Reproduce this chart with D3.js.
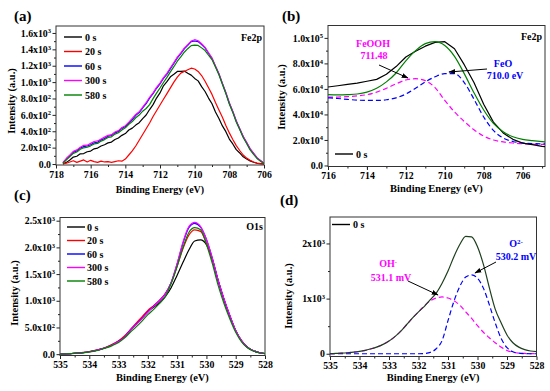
<!DOCTYPE html>
<html><head><meta charset="utf-8">
<script src="https://cdn.jsdelivr.net/npm/d3@7"></script>
<style>
body{margin:0;background:#fff}
svg{display:block}
text{font-family:"Liberation Serif","Times New Roman",serif;font-weight:bold;fill:#000}
</style>
</head><body><svg id="chart" width="550" height="391"></svg>
<script>
// ---------- Panel (a): Fe2p, sputter times ----------
const aEnergy = [717.6,717.4,717.2,717.0,716.8,716.6,716.4,716.2,716.0,715.8,715.6,715.4,715.2,715.0,714.8,714.6,714.4,714.2,714.0,713.8,713.6,713.4,713.2,713.0,712.8,712.6,712.4,712.2,712.0,711.8,711.6,711.4,711.2,711.0,710.8,710.6,710.4,710.2,710.0,709.8,709.6,709.4,709.2,709.0,708.8,708.6,708.4,708.2,708.0,707.8,707.6,707.4,707.2,707.0,706.8,706.6,706.4,706.2,706.0];
const a0s   = [0,20,50,85,95,125,128,150,158,185,195,220,236,258,268,300,318,350,372,415,438,475,505,555,598,665,725,805,868,955,1005,1065,1095,1130,1132,1135,1108,1085,1045,1015,945,885,805,735,635,555,465,395,305,245,175,135,88,62,38,22,9,5,0];
const a20s  = [0,10,25,40,20,35,50,25,45,30,20,35,25,30,20,30,40,35,60,110,160,220,290,360,430,500,580,650,720,790,860,930,1000,1060,1110,1130,1150,1170,1160,1130,1080,1010,930,850,750,660,570,470,380,300,225,165,110,72,45,25,12,5,0];
const a60s  = [15,60,100,145,160,195,212,220,236,260,266,295,312,340,348,380,398,435,458,500,542,595,628,685,738,805,858,925,978,1045,1098,1165,1228,1295,1348,1405,1448,1495,1502,1495,1458,1418,1352,1288,1192,1098,982,868,742,638,522,428,332,258,182,128,72,40,8];
const a300s = [20,70,110,155,172,205,228,230,252,275,282,305,328,350,358,390,408,445,468,510,558,605,638,695,748,815,868,935,988,1055,1108,1175,1238,1305,1358,1415,1458,1500,1518,1505,1468,1425,1358,1295,1198,1105,988,875,748,645,528,435,338,265,188,133,78,42,10];
const a580s = [10,50,90,130,147,180,198,205,222,245,252,280,298,325,332,365,382,415,442,485,518,565,598,645,678,725,798,865,928,995,1058,1125,1188,1255,1308,1365,1408,1445,1452,1448,1418,1385,1328,1275,1183,1090,973,860,733,630,513,420,323,250,173,118,68,34,6];
const aLegend = ["0 s","20 s","60 s","300 s","580 s"];
const aXTicks = [718,716,714,712,710,708,706];
const aYTicks = [0,200,400,600,800,1000,1200,1400,1600];
const aYTickLabels = ["0.0","2.0x10^2","4.0x10^2","6.0x10^2","8.0x10^2","1.0x10^3","1.2x10^3","1.4x10^3","1.6x10^3"];

// ---------- Panel (b): Fe2p fit ----------
const bEnergy = [716,715.5,715,714.5,714,713.5,713,712.5,712,711.5,711,710.5,710,709.5,709,708.5,708,707.5,707,706.5,706,705.5,705,704.85];
const bRaw    = [61500,62500,63500,64500,66000,67500,71500,77500,85000,89500,93500,96500,97000,91500,79000,65000,48000,34000,25500,20500,17500,16300,15000,14700];
const bFit    = [55500,55300,55500,56000,57500,60500,65500,72500,82000,90000,95500,97000,94000,85500,72000,57000,43500,33000,26500,22500,20500,19500,18700,18500];
const bFeOOH  = [53500,53600,54000,54500,55500,57500,60500,64000,67000,68000,66500,61000,51000,42000,34500,28000,23000,20000,18500,17600,17000,16700,16500,16500];
const bFeO    = [53000,52500,51800,51200,51000,51000,51500,53000,56000,60500,65500,69500,72000,72000,65000,52000,38000,27500,21500,18800,17700,17200,17000,17000];
const bXTicks = [716,714,712,710,708,706];
const bYTicks = [0,20000,40000,60000,80000,100000];
const bYTickLabels = ["0.0","2.0x10^4","4.0x10^4","6.0x10^4","8.0x10^4","1.0x10^5"];

// ---------- Panel (c): O1s, sputter times ----------
const cEnergy = [535.0,534.8,534.6,534.4,534.2,534.0,533.8,533.6,533.4,533.2,533.0,532.8,532.6,532.4,532.2,532.0,531.8,531.6,531.4,531.2,531.0,530.8,530.6,530.4,530.2,530.0,529.8,529.6,529.4,529.2,529.0,528.8,528.6,528.4,528.2,528.0];
const c0s   = [0,5,12,20,30,45,65,95,130,180,240,320,440,560,680,800,880,960,1080,1250,1480,1720,1950,2120,2140,2050,1780,1380,1020,710,440,250,130,65,30,12];
const c20s  = [0,5,12,22,33,48,70,100,140,190,250,340,460,580,700,820,910,1010,1140,1340,1650,1980,2230,2330,2300,2080,1760,1370,1020,710,440,250,130,65,30,12];
const c60s  = [0,5,12,20,30,45,65,95,130,178,240,320,450,560,670,790,900,1000,1130,1350,1690,2080,2370,2450,2380,2150,1800,1380,1030,720,440,250,130,65,30,12];
const c300s = [0,5,12,20,30,45,65,95,130,175,235,315,445,555,665,785,895,1000,1130,1350,1700,2100,2390,2470,2390,2150,1800,1385,1035,725,445,255,132,66,30,12];
const c580s = [0,4,10,18,28,42,60,88,122,165,220,300,410,510,620,740,840,950,1080,1330,1640,2000,2280,2370,2330,2060,1700,1290,950,660,410,230,120,60,27,10];
const cLegend = ["0 s","20 s","60 s","300 s","580 s"];
const cXTicks = [535,534,533,532,531,530,529,528];
const cYTicks = [0,500,1000,1500,2000,2500];
const cYTickLabels = ["0.0","5.0x10^2","1.0x10^3","1.5x10^3","2.0x10^3","2.5x10^3"];

// ---------- Panel (d): O1s fit ----------
const dEnergy = cEnergy;
const dRaw = [0,5,10,18,28,42,62,90,125,170,230,310,410,530,650,760,860,980,1100,1280,1500,1760,1980,2130,2120,1940,1620,1200,810,560,340,200,120,75,50,40];
const dOH  = [0,5,10,18,28,42,62,90,125,170,230,310,410,530,650,760,870,960,1010,1030,1010,960,880,760,640,510,390,290,200,120,60,25,10,5,2,0];
const dO2  = [0,0,0,0,0,0,0,0,0,0,0,0,0,0,0,0,5,25,90,240,600,950,1220,1390,1430,1370,1190,890,560,280,110,35,10,3,0,0];
const dXTicks = [535,534,533,532,531,530,529,528];
const dYTicks = [0,1000,2000];
const dYTickLabels = ["0","1x10^3","2x10^3"];

const seriesColors = ["#000000","#ff0000","#0000ff","#ff00ff","#008000"];

const svg = d3.select("#chart");
svg.append("defs").append("marker")
  .attr("id","arrow").attr("viewBox","0 0 10 10").attr("refX",9).attr("refY",5)
  .attr("markerWidth",7).attr("markerHeight",7).attr("orient","auto")
  .append("path").attr("d","M0,1.5 L10,5 L0,8.5 Z").attr("fill","#000");

function setLabel(sel, label, supSize){
  sel.text(null);
  const parts = label.split("^");
  sel.append("tspan").text(parts[0]);
  if (parts.length > 1) {
    sel.append("tspan").attr("dy","-0.5em").attr("font-size", supSize || "6.5px").text(parts[1]);
  }
}

function panel(o){
  const g = svg.append("g");
  const x = d3.scaleLinear().domain(o.xDomain).range([o.left, o.right]);
  const y = d3.scaleLinear().domain(o.yDomain).range([o.bottom, o.top]);

  g.append("g").attr("transform",`translate(0,${o.bottom})`)
    .call(d3.axisBottom(x).tickValues(o.xMinor).tickSize(2).tickFormat(""))
    .call(a=>a.select(".domain").remove());
  g.append("g").attr("transform",`translate(${o.left},0)`)
    .call(d3.axisLeft(y).tickValues(o.yMinor).tickSize(2).tickFormat(""))
    .call(a=>a.select(".domain").remove());

  const xa = g.append("g").attr("transform",`translate(0,${o.bottom})`)
    .call(d3.axisBottom(x).tickValues(o.xTicks).tickSize(3.5).tickPadding(2.5).tickFormat(d3.format("d")));
  xa.select(".domain").remove();
  xa.selectAll("text").attr("font-size","9.8px").attr("font-family",null);

  const ya = g.append("g").attr("transform",`translate(${o.left},0)`)
    .call(d3.axisLeft(y).tickValues(o.yTicks).tickSize(3.5).tickPadding(1.5));
  ya.select(".domain").remove();
  ya.selectAll("text").attr("font-size","9.8px").attr("font-family",null)
    .each(function(d,i){ setLabel(d3.select(this), o.yLabels[i]); });
  g.selectAll(".tick line").attr("stroke","#222");

  g.append("rect").attr("x",o.left).attr("y",o.top)
    .attr("width",o.right-o.left).attr("height",o.bottom-o.top)
    .attr("fill","none").attr("stroke","#333").attr("stroke-width",1);

  const clip = "clip-" + o.id;
  svg.select("defs").append("clipPath").attr("id",clip)
    .append("rect").attr("x",o.left).attr("y",o.top).attr("width",o.right-o.left).attr("height",o.bottom-o.top);

  const plot = g.append("g").attr("clip-path",`url(#${clip})`);
  o.series.forEach(s=>{
    const line = d3.line().x((d,i)=>x(s.x[i])).y(d=>y(d)).curve(s.curve || d3.curveLinear);
    plot.append("path").datum(s.y).attr("d",line)
      .attr("fill","none").attr("stroke",s.color).attr("stroke-width",s.width||1.2)
      .attr("stroke-dasharray",s.dash||null).attr("stroke-linejoin","round");
  });

  g.append("text").attr("x",(o.left+o.right)/2).attr("y",o.xTitleY)
    .attr("text-anchor","middle").attr("font-size",o.xTitleSize||"10.5px")
    .attr("font-family",o.xTitleFont||null).text("Binding Energy (eV)");
  g.append("text").attr("transform",`translate(${o.yTitleX},${o.yTitleCY}) rotate(-90)`)
    .attr("text-anchor","middle").attr("font-size","10.5px").text("Intensity (a.u.)");
  g.append("text").attr("x",o.labelX).attr("y",o.labelY).attr("font-size","15px").text(o.label);
  return {g,x,y};
}

// (a)
const pa = panel({id:"a",left:56,right:264,top:26,bottom:165,xDomain:[718,706],yDomain:[-12,1685],
  xTicks:aXTicks,xMinor:d3.range(717,706,-2),yTicks:aYTicks,yMinor:d3.range(100,1700,200),yLabels:aYTickLabels,
  xTitleY:193,xTitleFont:"Liberation Sans, Arial, sans-serif",xTitleSize:"10px",yTitleX:15,yTitleCY:101,label:"(a)",labelX:14,labelY:21,
  series:[a0s,a20s,a60s,a300s,a580s].map((v,i)=>({x:aEnergy,y:v,color:seriesColors[i]}))});
aLegend.forEach((t,i)=>{
  const yy = 37 + i*14.5;
  pa.g.append("line").attr("x1",64).attr("x2",82).attr("y1",yy).attr("y2",yy).attr("stroke",seriesColors[i]).attr("stroke-width",1.4);
  pa.g.append("text").attr("x",85).attr("y",yy+3.5).attr("font-size","10px").text(t);
});
pa.g.append("text").attr("x",262).attr("y",41).attr("text-anchor","end").attr("font-size","10px").text("Fe2p");

// (b)
const pb = panel({id:"b",left:328,right:545,top:25.5,bottom:166.5,xDomain:[716,704.85],yDomain:[-800,109700],
  xTicks:bXTicks,xMinor:d3.range(715,704.85,-1),yTicks:bYTicks,yMinor:d3.range(10000,110000,20000),yLabels:bYTickLabels,
  xTitleY:192,yTitleX:285,yTitleCY:97,label:"(b)",labelX:282,labelY:21,
  series:[
    {x:bEnergy,y:bFeOOH,color:"#ff00ff",dash:"5,3",curve:d3.curveMonotoneX},
    {x:bEnergy,y:bFeO,color:"#0000ff",dash:"5,3",curve:d3.curveMonotoneX},
    {x:bEnergy,y:bRaw,color:"#000000"},
    {x:bEnergy,y:bFit,color:"#008000",curve:d3.curveMonotoneX}
  ]});
pb.g.append("line").attr("x1",335).attr("x2",353).attr("y1",154).attr("y2",154).attr("stroke","#000").attr("stroke-width",1.4);
pb.g.append("text").attr("x",356).attr("y",157.5).attr("font-size","10px").text("0 s");
pb.g.append("text").attr("x",542).attr("y",40).attr("text-anchor","end").attr("font-size","10px").text("Fe2p");
pb.g.append("text").attr("x",373).attr("y",47).attr("text-anchor","middle").attr("font-size","10px").style("fill","#ff00ff").text("FeOOH");
pb.g.append("text").attr("x",374).attr("y",59).attr("text-anchor","middle").attr("font-size","10px").style("fill","#ff00ff").text("711.48");
pb.g.append("text").attr("x",503).attr("y",67).attr("text-anchor","middle").attr("font-size","10px").style("fill","#0000ff").text("FeO");
pb.g.append("text").attr("x",505).attr("y",79).attr("text-anchor","middle").attr("font-size","10px").style("fill","#0000ff").text("710.0 eV");
pb.g.append("line").attr("x1",379).attr("y1",65).attr("x2",408).attr("y2",78).attr("stroke","#000").attr("stroke-width",1).attr("marker-end","url(#arrow)");
pb.g.append("line").attr("x1",487).attr("y1",69).attr("x2",449).attr("y2",72).attr("stroke","#000").attr("stroke-width",1).attr("marker-end","url(#arrow)");

// (c)
const pc = panel({id:"c",left:60,right:265,top:217.5,bottom:355.5,xDomain:[535,528],yDomain:[-25,2560],
  xTicks:cXTicks,xMinor:d3.range(534.5,528,-1),yTicks:cYTicks,yMinor:d3.range(250,2560,500),yLabels:cYTickLabels,
  xTitleY:381,yTitleX:18,yTitleCY:293,label:"(c)",labelX:14,labelY:200,
  series:[c0s,c20s,c60s,c300s,c580s].map((v,i)=>({x:cEnergy,y:v,color:seriesColors[i],curve:d3.curveMonotoneX}))});
cLegend.forEach((t,i)=>{
  const yy = 227 + i*13.5;
  pc.g.append("line").attr("x1",67).attr("x2",85).attr("y1",yy).attr("y2",yy).attr("stroke",seriesColors[i]).attr("stroke-width",1.4);
  pc.g.append("text").attr("x",87).attr("y",yy+3.5).attr("font-size","10px").text(t);
});
pc.g.append("text").attr("x",263).attr("y",230).attr("text-anchor","end").attr("font-size","10px").text("O1s");

// (d)
const pd = panel({id:"d",left:330,right:536.5,top:217,bottom:356.5,xDomain:[535,528],yDomain:[-50,2480],
  xTicks:dXTicks,xMinor:d3.range(534.5,528,-1),yTicks:dYTicks,yMinor:[500,1500],yLabels:dYTickLabels,
  xTitleY:381,yTitleX:292,yTitleCY:296,label:"(d)",labelX:280,labelY:205,
  series:[
    {x:dEnergy,y:dOH,color:"#ff00ff",dash:"5,3",curve:d3.curveMonotoneX},
    {x:dEnergy,y:dO2,color:"#0000ff",dash:"5,3",curve:d3.curveMonotoneX},
    {x:dEnergy,y:dRaw,color:"#1e3f1e",curve:d3.curveMonotoneX}
  ]});
pd.g.append("line").attr("x1",332).attr("x2",350).attr("y1",224.5).attr("y2",224.5).attr("stroke","#000").attr("stroke-width",1.4);
pd.g.append("text").attr("x",353).attr("y",228).attr("font-size","10px").text("0 s");
const ohT = pd.g.append("text").attr("x",388).attr("y",267).attr("text-anchor","middle").attr("font-size","10px").style("fill","#ff00ff");
setLabel(ohT,"OH^-");
pd.g.append("text").attr("x",391).attr("y",281).attr("text-anchor","middle").attr("font-size","10px").style("fill","#ff00ff").text("531.1 mV");
const o2T = pd.g.append("text").attr("x",516).attr("y",247).attr("text-anchor","middle").attr("font-size","10px").style("fill","#0000ff");
setLabel(o2T,"O^2-","7px");
pd.g.append("text").attr("x",516).attr("y",260).attr("text-anchor","middle").attr("font-size","10px").style("fill","#0000ff").text("530.2 mV");
pd.g.append("line").attr("x1",408).attr("y1",281).attr("x2",438).attr("y2",295).attr("stroke","#000").attr("stroke-width",1).attr("marker-end","url(#arrow)");
pd.g.append("line").attr("x1",496).attr("y1",262).attr("x2",475).attr("y2",273).attr("stroke","#000").attr("stroke-width",1).attr("marker-end","url(#arrow)");
</script></body></html>
